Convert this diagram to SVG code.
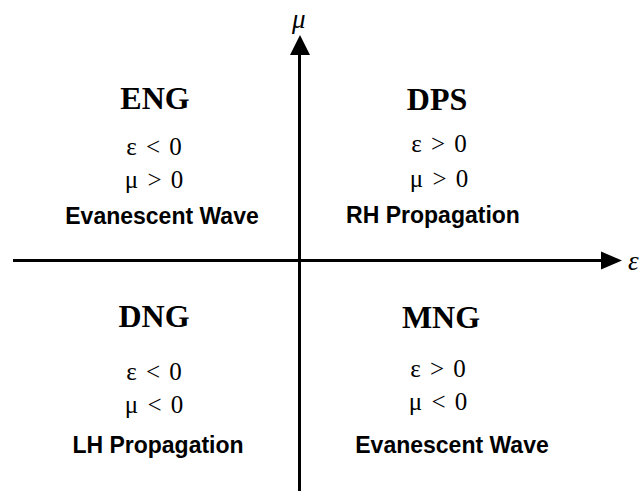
<svg xmlns="http://www.w3.org/2000/svg" width="643" height="491" viewBox="0 0 643 491">
<style>
.t{font-family:"Liberation Serif","Times New Roman",serif;font-weight:bold;font-size:32px;fill:#000;text-anchor:middle}
.c{font-family:"Liberation Serif","Times New Roman",serif;font-size:25px;word-spacing:3px;fill:#000;text-anchor:middle}
.d{font-family:"Liberation Sans",Arial,sans-serif;font-weight:bold;font-size:23px;fill:#000;text-anchor:middle}
.ax{font-family:"Liberation Serif","Times New Roman",serif;font-style:italic;font-size:27px;fill:#000}
</style>
<rect width="643" height="491" fill="#fff"/>
<g id="connectors">
<line x1="13" y1="260.5" x2="604" y2="260.5" stroke="#000" stroke-width="3"/>
<polygon points="601,251.5 622,260.5 601,269.5" fill="#000"/>
<line x1="299.5" y1="491" x2="299.5" y2="52" stroke="#000" stroke-width="3"/>
<polygon points="290,55 300,35 310,55" fill="#000"/>
</g>
<g id="axis-labels">
<text class="ax" x="292" y="28">μ</text>
<text class="ax" x="628" y="270">ε</text>
</g>
<g id="ENG">
<text class="t" x="155" y="109">ENG</text>
<text class="c" x="154" y="155">ε &lt; 0</text>
<text class="c" x="154" y="188">μ &gt; 0</text>
<text class="d" x="162" y="224">Evanescent Wave</text>
</g>
<g id="DPS">
<text class="t" x="437" y="110">DPS</text>
<text class="c" x="439" y="152">ε &gt; 0</text>
<text class="c" x="439" y="187">μ &gt; 0</text>
<text class="d" x="433" y="223">RH Propagation</text>
</g>
<g id="DNG">
<text class="t" x="154" y="327">DNG</text>
<text class="c" x="154" y="380">ε &lt; 0</text>
<text class="c" x="154" y="413">μ &lt; 0</text>
<text class="d" x="158" y="453">LH Propagation</text>
</g>
<g id="MNG">
<text class="t" x="441" y="328">MNG</text>
<text class="c" x="438" y="377">ε &gt; 0</text>
<text class="c" x="438" y="410">μ &lt; 0</text>
<text class="d" x="452" y="453">Evanescent Wave</text>
</g>
</svg>
